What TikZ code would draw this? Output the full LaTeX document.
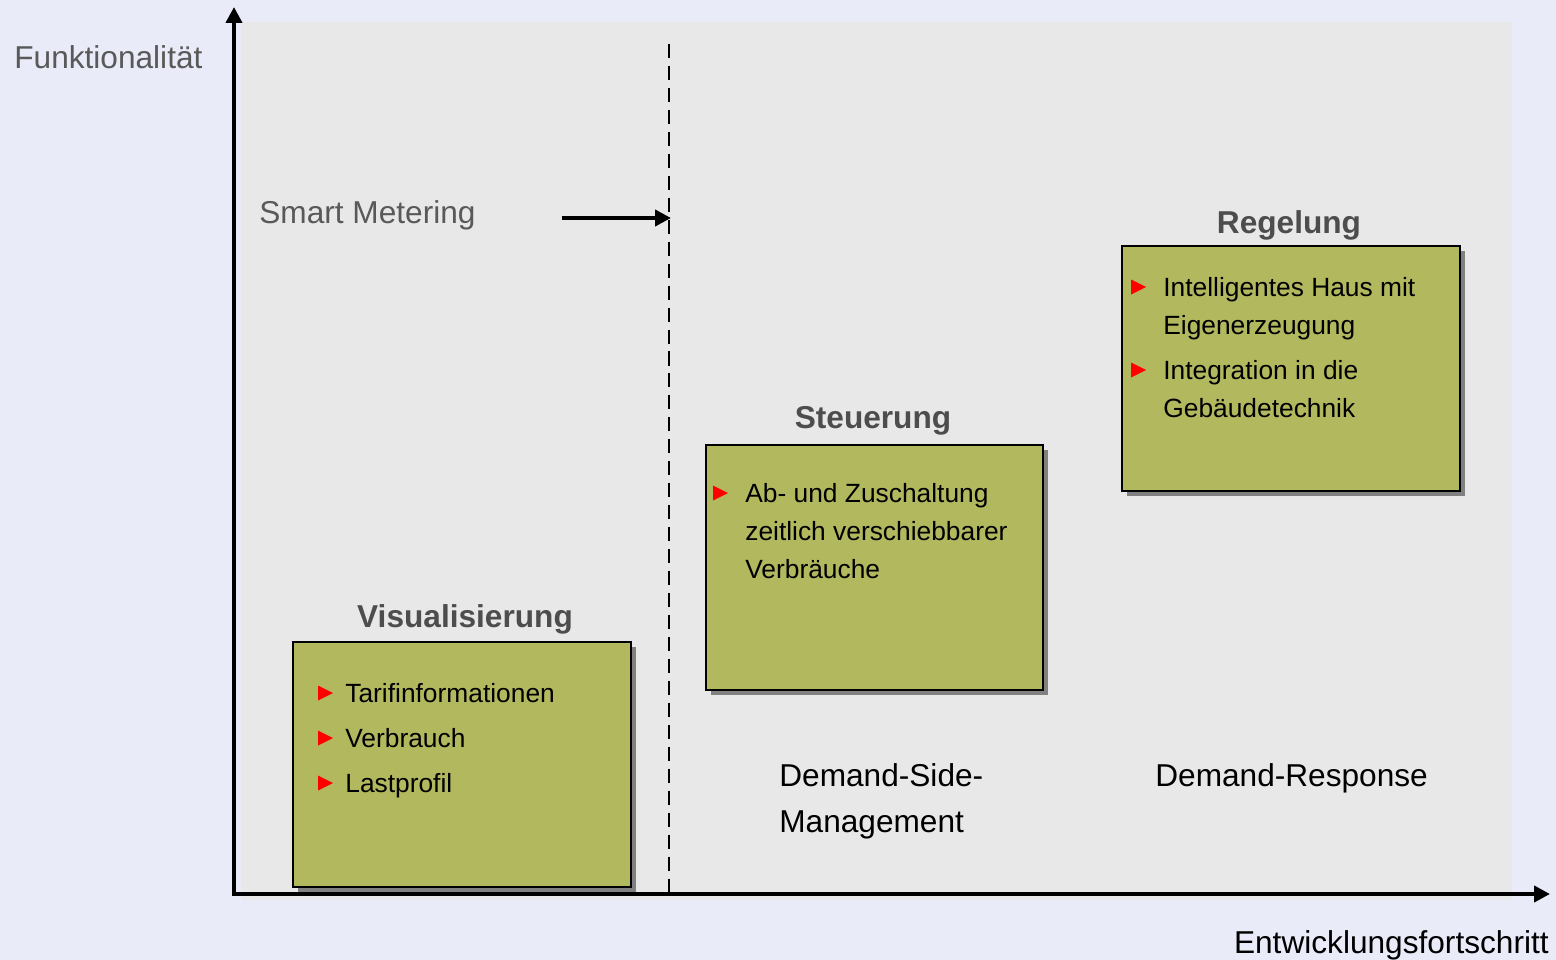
\documentclass[tikz,border=0pt]{standalone}
\usepackage{fontspec}
\setmainfont{Liberation Sans}
\usetikzlibrary{arrows.meta,shadows}
\definecolor{bgcol}{HTML}{E9EBF8}
\definecolor{panelcol}{HTML}{E8E8E8}
\definecolor{boxcol}{HTML}{B2B85E}
\definecolor{titlecol}{HTML}{4D4D4D}
\definecolor{labelcol}{HTML}{595959}
\definecolor{shadowcol}{HTML}{808080}
\tikzset{
  big/.style={font=\fontsize{18}{21.6}\selectfont, inner sep=0pt},
  small/.style={font=\fontsize{15}{18}\selectfont, inner sep=0pt, anchor=base west},
  titletext/.style={big, font=\fontsize{18}{21.6}\selectfont\bfseries, text=titlecol, anchor=base},
  stepbox/.style={draw=black, line width=1.13pt, fill=boxcol, minimum width=6.76cm, minimum height=4.9cm, inner sep=0pt,
    drop shadow={shadow xshift=0.1cm, shadow yshift=-0.1cm, fill=shadowcol, opacity=1}},
  axisline/.style={line width=2.3pt, -{Triangle[length=9pt,width=9pt]}},
  bullet/.pic={\fill[red] (0,-7.5) -- (15,0) -- (0,7.5) -- cycle;}
}
\begin{document}
\begin{tikzpicture}[x=0.02cm, y=-0.02cm]
\useasboundingbox (0,0) rectangle (1556,960);
\fill[bgcol] (0,0) rectangle (1556,960);
\fill[panelcol] (241,22) rectangle (1512,900);

% dashed separator
\coordinate (dtop) at (669,44);
\coordinate (dbot) at (669,893);
\draw[line width=1.1pt, dash pattern=on 8pt off 4.5pt] (dtop) -- (dbot);

% axes
\coordinate (origin) at (234,894);
\coordinate (ytop) at (234,7);
\coordinate (xend) at (1550,894);
\draw[axisline] (234,896) -- (ytop);
\draw[axisline] (232,894) -- (xend);

\node[big, text=labelcol, anchor=base west] (ylab) at (14,69) {Funktionalität};
\node[big, anchor=base east] (xlab) at (1549,953) {Entwicklungsfortschritt};

% smart metering
\node[big, text=labelcol, anchor=base west] (sm) at (259,223) {Smart Metering};
\coordinate (smstart) at (562,218);
\coordinate (smend) at (671,218);
\draw[line width=2.3pt, -{Triangle[length=9pt,width=9pt]}] (smstart) -- (smend);

% boxes
\node[stepbox] (vis) at (462,764.5) {};
\node[stepbox] (steu) at (874.5,567.5) {};
\node[stepbox] (reg) at (1291,368.5) {};

\node[titletext] (vist) at (465,627) {Visualisierung};
\node[titletext] (steut) at (873,428) {Steuerung};
\node[titletext] (regt) at (1289,233) {Regelung};

% Visualisierung items
\pic at (318,693) {bullet};
\pic at (318,738) {bullet};
\pic at (318,783) {bullet};
\node[small] (v1) at (345,702) {Tarifinformationen};
\node[small] (v2) at (345,747) {Verbrauch};
\node[small] (v3) at (345,792) {Lastprofil};

% Steuerung items
\pic at (713,493) {bullet};
\node[small] (s1) at (745,502) {Ab- und Zuschaltung};
\node[small] (s2) at (745,540) {zeitlich verschiebbarer};
\node[small] (s3) at (745,578) {Verbräuche};

% Regelung items
\pic at (1131,287) {bullet};
\pic at (1131,370) {bullet};
\node[small] (r1) at (1163,296) {Intelligentes Haus mit};
\node[small] (r2) at (1163,334) {Eigenerzeugung};
\node[small] (r3) at (1163,379) {Integration in die};
\node[small] (r4) at (1163,417) {Gebäudetechnik};

% bottom labels
\node[big, anchor=base west] (dsm1) at (779,786) {Demand-Side-};
\node[big, anchor=base west] (dsm2) at (779,832) {Management};
\node[big, anchor=base west] (dr) at (1155,786) {Demand-Response};
\end{tikzpicture}
\end{document}
